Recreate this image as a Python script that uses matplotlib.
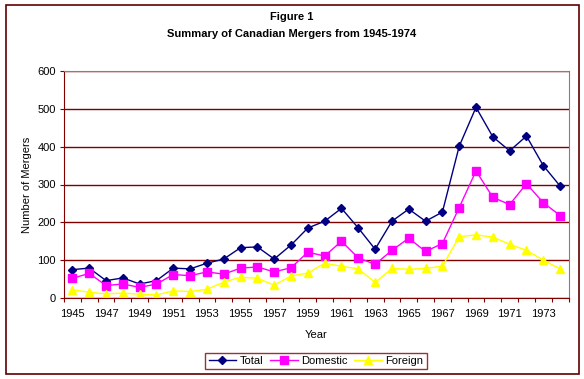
import numpy as np
import matplotlib
matplotlib.use("Agg")
import matplotlib.pyplot as plt
from matplotlib.patches import Rectangle

plt.rcParams["font.family"] = ["Liberation Sans", "DejaVu Sans"]

# ---------------------------------------------------------------------------
# Data
# ---------------------------------------------------------------------------
years = list(range(1945, 1975))
total = [75, 79, 46, 53, 37, 46, 79, 77, 92, 103, 133, 135, 103, 140, 185,
         203, 237, 185, 129, 203, 235, 203, 227, 401, 504, 426, 389, 428, 350, 296]
domestic = [52, 65, 33, 37, 28, 37, 62, 59, 69, 63, 79, 82, 69, 80, 121,
            111, 150, 106, 89, 126, 158, 123, 144, 239, 336, 266, 247, 302, 252, 218]
foreign = [22, 15, 11, 13, 10, 8, 19, 17, 23, 42, 55, 52, 34, 58, 66,
           92, 84, 77, 41, 78, 76, 78, 84, 162, 167, 161, 142, 126, 100, 77]

MAROON = "#800000"
W, H = 584, 379

fig = plt.figure(figsize=(W / 100, H / 100), dpi=100)
ax = fig.add_axes([64 / W, 1 - 298 / H, (568.5 - 64) / W, (298 - 71) / H])

x = np.arange(len(years))
ax.plot(x, total, color="#000080", lw=1, marker="D", ms=4.5, label="Total")
ax.plot(x, domestic, color="#FF00FF", lw=1, marker="s", ms=5.5, label="Domestic")
ax.plot(x, foreign, color="#FFFF00", lw=1, marker="^", ms=6, label="Foreign")

ax.set_xlim(-0.5, len(years) - 0.5)
ax.set_ylim(0, 600)
ax.set_yticks(range(0, 601, 100))
ax.yaxis.grid(True, color=MAROON, lw=1)
ax.set_axisbelow(True)

# category axis: ticks between categories, labels on every other year
ax.set_xticks(np.arange(-0.5, len(years), 1))
ax.set_xticklabels([])
ax.set_xticks(x[::2], minor=True)
ax.set_xticklabels([str(y) for y in years[::2]], minor=True)
ax.tick_params(axis="x", which="minor", length=0, pad=8, labelsize=8)
ax.tick_params(axis="x", which="major", length=3, color=MAROON, direction="out")
ax.tick_params(axis="y", length=3, color=MAROON, direction="out", labelsize=8, pad=3)

for s in ("left", "bottom"):
    ax.spines[s].set_color(MAROON)
for s in ("top", "right"):
    ax.spines[s].set_color("#808080")

ax.set_xlabel("Year", fontsize=8, labelpad=8)
fig.text(27 / W, 1 - 185 / H, "Number of Mergers", rotation=90,
         ha="center", va="center", fontsize=8)

fig.text(292 / W, 1 - 17 / H, "Figure 1", ha="center", va="center",
         fontsize=8, fontweight="bold")
fig.text(292 / W, 1 - 34 / H, "Summary of Canadian Mergers from 1945-1974",
         ha="center", va="center", fontsize=8, fontweight="bold")

leg = fig.legend(loc="center", bbox_to_anchor=(316 / W, 1 - 361 / H), ncol=3,
                 fontsize=8, frameon=True, fancybox=False, handlelength=2.5,
                 handletextpad=0.3, columnspacing=0.6, borderpad=0.3,
                 borderaxespad=0)
leg.get_frame().set_edgecolor(MAROON)
leg.get_frame().set_linewidth(1)

fig.patches.append(Rectangle((6 / W, 1 - 374 / H), 573 / W, 369 / H,
                             transform=fig.transFigure, fill=False,
                             edgecolor="#600000", lw=1.2))

fig.savefig("out.png", dpi=100)
